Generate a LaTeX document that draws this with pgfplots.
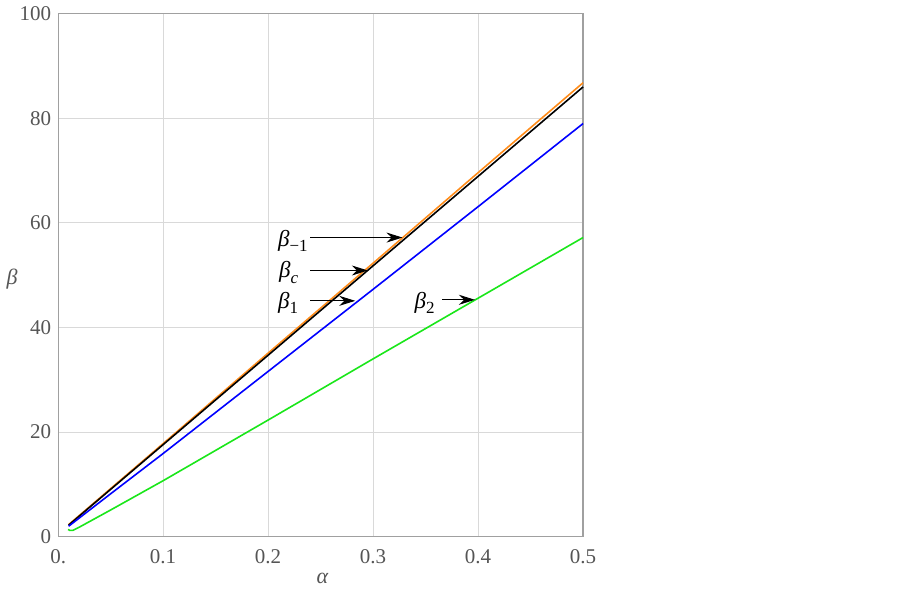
\documentclass[border=0pt]{standalone}
\usepackage{fontspec}
\setmainfont{Liberation Serif}
\usepackage{pgfplots}
\pgfplotsset{compat=1.18}
\usetikzlibrary{arrows.meta}
\definecolor{tickgray}{HTML}{555555}
\definecolor{framegray}{HTML}{A0A0A0}
\definecolor{gridgray}{HTML}{D9D9D9}
\definecolor{mmaorange}{HTML}{FF8C1A}
\definecolor{mmagreen}{HTML}{1AE61A}
\newcommand\sub[1]{\raisebox{-0.5ex}{\fontsize{8.5}{9}\selectfont #1}}

\begin{document}
\begin{tikzpicture}
\begin{axis}[
  scale only axis, width=262.5pt, height=261.5pt,
  xmin=0, xmax=0.5, ymin=0, ymax=100,
  xtick={0,0.1,0.2,0.3,0.4,0.5},
  xticklabels={0.,0.1,0.2,0.3,0.4,0.5},
  ytick={0,20,40,60,80,100},
  /pgf/number format/assume math mode=true,
  tick label style={font=\fontsize{10.5}{12}\selectfont, text=tickgray},
  xticklabel style={yshift=-3pt},
  major tick length=0,
  grid=major, grid style={gridgray, line width=0.5pt},
  axis line style={framegray, line width=0.6pt},
  clip=false,
  every axis plot/.append style={line width=0.8pt, mark=none},
]
% beta_{-1}
\addplot[mmaorange] coordinates {(0.01,2.3) (0.1,17.8) (0.2,35.1) (0.3,52.3) (0.4,69.6) (0.5,86.8)};
% beta_c
\addplot[black] coordinates {(0.01,2.2) (0.1,17.6) (0.2,34.7) (0.3,51.8) (0.4,68.9) (0.5,86.0)};
% beta_1
\addplot[blue] coordinates {(0.01,2.0) (0.05,8.2) (0.1,15.9) (0.2,31.6) (0.3,47.3) (0.4,63.1) (0.5,79.0)};
% beta_2
\addplot[mmagreen] coordinates {(0.0095,1.4) (0.011,1.2) (0.014,1.2) (0.02,1.8) (0.03,2.9) (0.05,5.1) (0.1,10.7) (0.2,22.3) (0.3,34.0) (0.4,45.6) (0.5,57.2)};

% labels and arrows
\node[anchor=east, inner sep=0, font=\fontsize{11.5}{13}\selectfont] at (axis cs:0.238,56.5) {\textit{β}\sub{−1}};
\node[anchor=east, inner sep=0, font=\fontsize{11.5}{13}\selectfont] at (axis cs:0.229,50.5) {\textit{β}\sub{\textit{c}}};
\node[anchor=east, inner sep=0, font=\fontsize{11.5}{13}\selectfont] at (axis cs:0.229,44.7) {\textit{β}\sub{1}};
\node[anchor=east, inner sep=0, font=\fontsize{11.5}{13}\selectfont] at (axis cs:0.359,44.7) {\textit{β}\sub{2}};
\draw[-{Stealth[length=8pt,width=5pt]}, line width=0.5pt] (axis cs:0.240,57.2) -- (axis cs:0.328,57.2);
\draw[-{Stealth[length=8pt,width=5pt]}, line width=0.5pt] (axis cs:0.240,50.9) -- (axis cs:0.295,50.9);
\draw[-{Stealth[length=8pt,width=5pt]}, line width=0.5pt] (axis cs:0.240,45.1) -- (axis cs:0.283,45.1);
\draw[-{Stealth[length=8pt,width=5pt]}, line width=0.5pt] (axis cs:0.366,45.3) -- (axis cs:0.397,45.3);

% axis labels
\node[text=tickgray, font=\fontsize{11}{13}\selectfont] at (axis cs:0.252,-8.0) {\textit{α}};
\node[text=tickgray, font=\fontsize{11}{13}\selectfont] at (axis cs:-0.0438,49.2) {\textit{β}};

% page extent
\path (rel axis cs:-0.1105,-0.1071) rectangle (rel axis cs:1.6076,1.0249);
\end{axis}
\end{tikzpicture}
\end{document}
